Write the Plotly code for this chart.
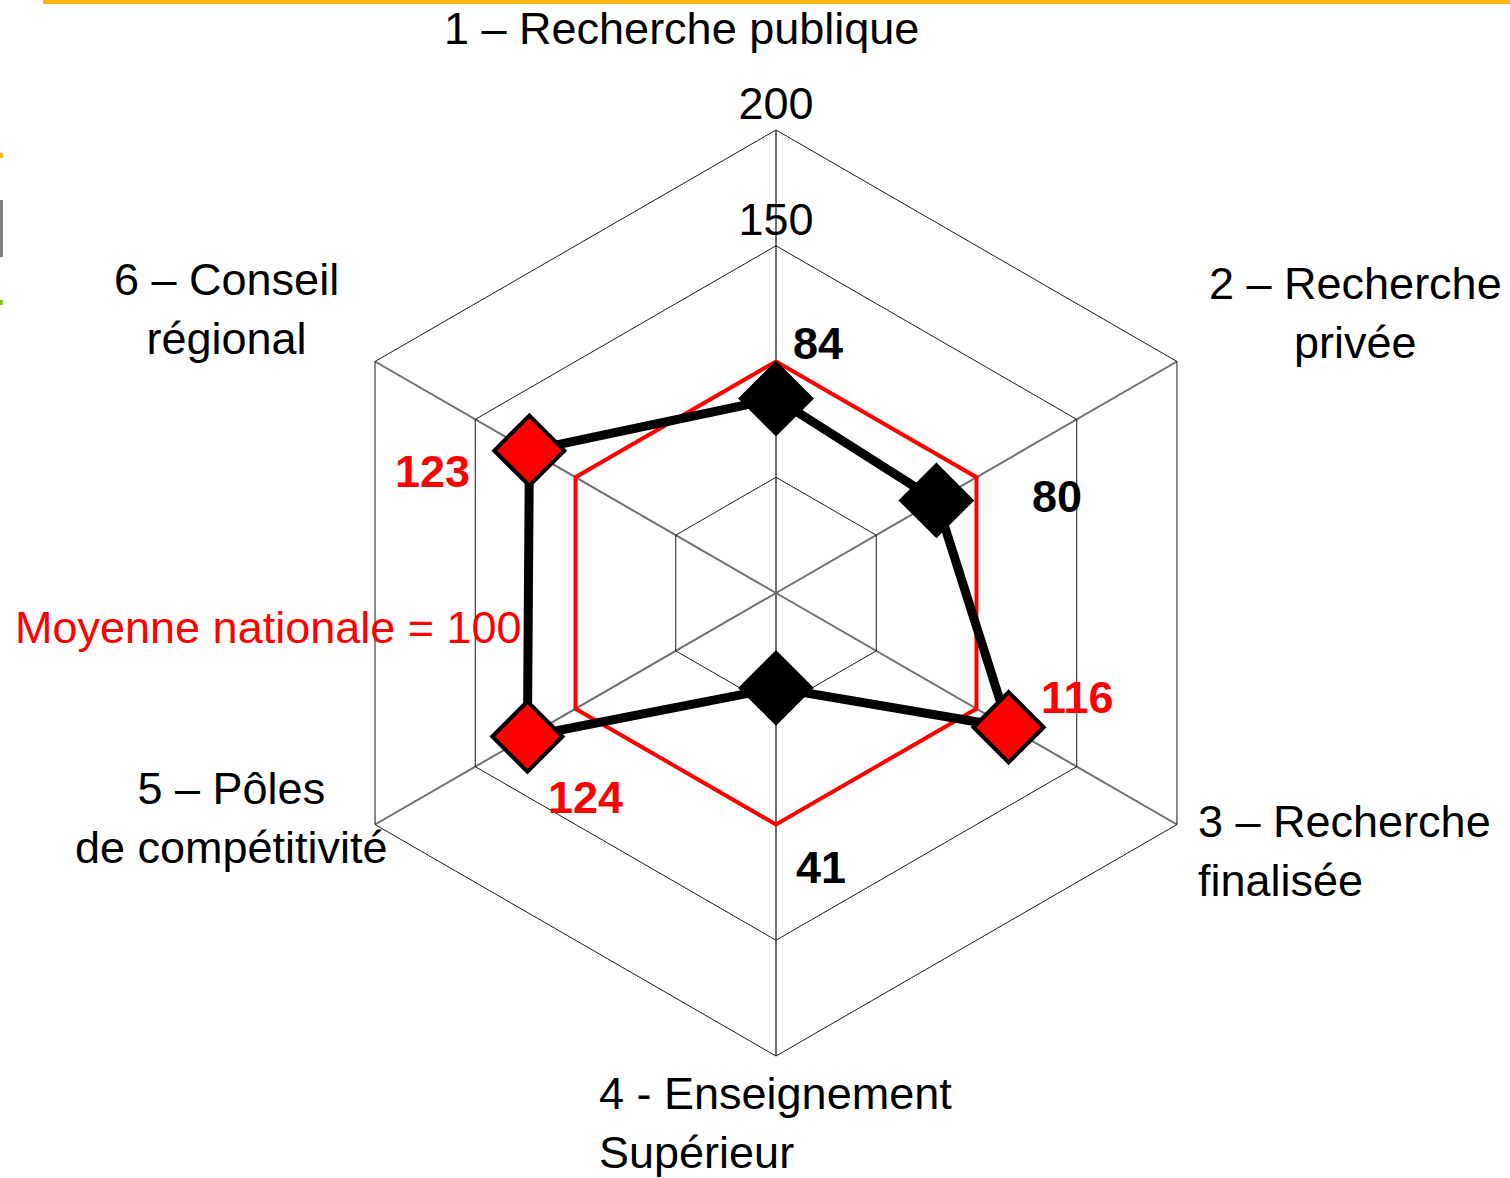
import plotly.graph_objects as go

# ---- data ----
categories = ["Recherche publique", "Recherche privée", "Recherche finalisée",
              "Enseignement Supérieur", "Pôles de compétitivité", "Conseil régional"]
category_labels = ["1 – Recherche publique", "2 – Recherche<br>privée", "3 – Recherche<br>finalisée",
                   "4 - Enseignement<br>Supérieur", "5 – Pôles<br>de compétitivité", "6 – Conseil<br>régional"]
values = [84, 80, 116, 41, 124, 123]
national_average = [100, 100, 100, 100, 100, 100]
radial_ticks = [50, 100, 150, 200]
shown_ticks = [150, 200]
average_label = "Moyenne nationale = 100"

# ---- layout helpers (pixel -> paper) ----
W, H = 1510, 1178
def px(x):
    return x / W
def py(y):
    return 1 - y / H

FONT = "Arial, Liberation Sans, sans-serif"
RED = "#FF0000"

cx, cy, R = 776, 593, 463

fig = go.Figure()

# national average hexagon
fig.add_trace(go.Scatterpolar(
    r=national_average + national_average[:1],
    theta=categories + categories[:1],
    mode="lines", line=dict(color=RED, width=4),
    hoverinfo="skip", cliponaxis=False,
))

# region profile line
fig.add_trace(go.Scatterpolar(
    r=values + values[:1],
    theta=categories + categories[:1],
    mode="lines", line=dict(color="black", width=9),
    hoverinfo="skip", cliponaxis=False,
))

# markers
marker_colors = [RED if v > 100 else "black" for v in values]
fig.add_trace(go.Scatterpolar(
    r=values, theta=categories, mode="markers",
    marker=dict(symbol="diamond", size=54, color=marker_colors,
                line=dict(color="black", width=4)),
    cliponaxis=False,
))

# radial tick labels (150, 200) above top vertex
fig.add_trace(go.Scatterpolar(
    r=shown_ticks, theta=[categories[0]] * len(shown_ticks),
    mode="text", text=[str(t) for t in shown_ticks],
    textposition="top center",
    textfont=dict(family=FONT, size=45, color="black"),
    cliponaxis=False, hoverinfo="skip",
))

fig.update_layout(
    width=W, height=H,
    margin=dict(l=0, r=0, t=0, b=0),
    paper_bgcolor="white", plot_bgcolor="white",
    showlegend=False,
    font=dict(family=FONT, size=45, color="black"),
    polar=dict(
        domain=dict(x=[px(cx - R), px(cx + R)], y=[py(cy + R), py(cy - R)]),
        bgcolor="white",
        gridshape="linear",
        radialaxis=dict(range=[0, 200], tickvals=radial_ticks, showticklabels=False,
                        showline=False, ticks="", gridcolor="#1a1a1a", gridwidth=1),
        angularaxis=dict(rotation=90, direction="clockwise", showticklabels=False,
                         ticks="", showline=True, linecolor="#1a1a1a", linewidth=1,
                         gridcolor="#6e6e6e", gridwidth=1.5),
    ),
)

annotations = []
# category labels: (x, y, xanchor, align)
label_pos = [
    (681, 29, "center", "center"),
    (1355, 313, "center", "center"),
    (1196, 851, "left", "left"),
    (597, 1123, "left", "left"),
    (231, 818, "center", "center"),
    (226, 309, "center", "center"),
]
for txt, (x, y, xa, al) in zip(category_labels, label_pos):
    annotations.append(dict(text=txt, x=px(x), y=py(y), xref="paper", yref="paper",
                            xanchor=xa, yanchor="middle", align=al, showarrow=False,
                            font=dict(family=FONT, size=45, color="black")))

# value labels
value_label_pos = [(818, 343), (1057, 497), (1077, 697), (821, 867), (585, 797), (433, 471)]
for v, (x, y) in zip(values, value_label_pos):
    annotations.append(dict(text=f"<b>{v}</b>", x=px(x), y=py(y), xref="paper", yref="paper",
                            xanchor="center", yanchor="middle", showarrow=False,
                            font=dict(family=FONT, size=45,
                                      color=RED if v > 100 else "black")))

annotations.append(dict(text=average_label, x=px(268), y=py(627), xref="paper", yref="paper",
                        xanchor="center", yanchor="middle", showarrow=False,
                        font=dict(family=FONT, size=45, color=RED)))
fig.update_layout(annotations=annotations)

# slide decorations
shapes = [
    dict(type="rect", xref="paper", yref="paper", x0=px(43), x1=px(1510), y0=py(4), y1=py(0),
         fillcolor="#FDB515", line=dict(width=0)),
    dict(type="rect", xref="paper", yref="paper", x0=px(0), x1=px(3), y0=py(158), y1=py(153),
         fillcolor="#FDB515", line=dict(width=0)),
    dict(type="rect", xref="paper", yref="paper", x0=px(0), x1=px(3), y0=py(257), y1=py(200),
         fillcolor="#7f7f7f", line=dict(width=0)),
    dict(type="rect", xref="paper", yref="paper", x0=px(0), x1=px(3), y0=py(305), y1=py(300),
         fillcolor="#8DC21F", line=dict(width=0)),
]
fig.update_layout(shapes=shapes)

fig.write_html("out.html",
               config={"displayModeBar": False},
               post_script="document.body.style.margin='0';document.body.style.padding='0';")
